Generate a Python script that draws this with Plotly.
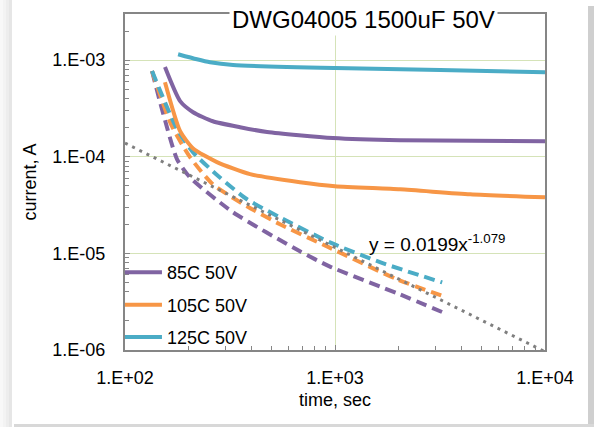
import plotly.graph_objects as go

# ---- data ----
t_85 = [155, 183, 211, 262, 353, 475, 978, 2040, 10000]
i_85 = [8.46e-4, 3.76e-4, 2.89e-4, 2.33e-4, 2.02e-4, 1.80e-4, 1.56e-4, 1.48e-4, 1.45e-4]

t_105 = [155, 183, 211, 274, 394, 681, 1000, 2040, 4400, 10000]
i_105 = [5.9e-4, 1.84e-4, 1.22e-4, 8.8e-5, 6.6e-5, 5.45e-5, 4.95e-5, 4.6e-5, 4.08e-5, 3.8e-5]

t_125 = [179, 220, 254, 327, 1000, 3162, 10000]
i_125 = [1.15e-3, 1.02e-3, 9.5e-4, 8.9e-4, 8.26e-4, 7.9e-4, 7.5e-4]

td_85 = [134.5, 150, 177, 204, 327, 681, 946, 2040, 3450]
id_85 = [7.7e-4, 3.1e-4, 9.4e-5, 6.1e-5, 2.66e-5, 1.05e-5, 7.3e-6, 3.76e-6, 2.33e-6]

td_105 = [134.5, 165.5, 204, 262, 381, 547, 916, 1972, 3410]
id_105 = [7.7e-4, 2.17e-4, 9.9e-5, 5.19e-5, 3.07e-5, 2.0e-5, 1.18e-5, 5.4e-6, 3.5e-6]

td_125 = [134.5, 177, 211, 283, 381, 547, 946, 1637, 3240]
id_125 = [7.7e-4, 1.93e-4, 1.11e-4, 6.1e-5, 3.63e-5, 2.36e-5, 1.3e-5, 8.1e-6, 5.0e-6]

trend_t = [100, 10000]
trend_i = [1.383e-4, 9.6e-7]

series_names = ["85C 50V", "105C 50V", "125C 50V"]
x_tickvals = [100, 1000, 10000]
x_ticktext = ["1.E+02", "1.E+03", "1.E+04"]
y_tickvals = [1e-6, 1e-5, 1e-4, 1e-3]
y_ticktext = ["1.E-06", "1.E-05", "1.E-04", "1.E-03"]
title_text = "DWG04005 1500uF 50V"
equation_text = "y = 0.0199x<sup>-1.079</sup>"

PURPLE = "#8064A2"
ORANGE = "#F79646"
TEAL = "#4BACC6"
GREY = "#7F7F7F"
FONT = "Liberation Sans, Arial, sans-serif"
FS = 18

fig = go.Figure()

# dashed series (no legend)
for tx, iy, c in [(td_85, id_85, PURPLE), (td_105, id_105, ORANGE), (td_125, id_125, TEAL)]:
    fig.add_trace(go.Scatter(x=tx, y=iy, mode="lines", showlegend=False,
                             line=dict(color=c, width=4, dash="11px,6px", shape="spline", smoothing=0.6)))

# trend line (dotted)
fig.add_trace(go.Scatter(x=trend_t, y=trend_i, mode="lines", showlegend=False,
                         line=dict(color=GREY, width=3, dash="3px,5px")))

# solid series
for tx, iy, c, n in [(t_85, i_85, PURPLE, series_names[0]),
                     (t_105, i_105, ORANGE, series_names[1]),
                     (t_125, i_125, TEAL, series_names[2])]:
    fig.add_trace(go.Scatter(x=tx, y=iy, mode="lines", name=n, legendgroup=n,
                             line=dict(color=c, width=4, shape="spline", smoothing=0.6)))

minor_x = [m * 10 ** d for d in (2, 3) for m in range(2, 10)]
minor_y = [m * 10 ** d for d in (-6, -5, -4, -3) for m in range(2, 10)]

axis_common = dict(showline=True, linecolor="#868686", linewidth=2, mirror=True,
                   ticks="inside", ticklen=5, tickcolor="#868686", tickwidth=1,
                   showgrid=True, gridcolor="#D5E3B8", gridwidth=1,
                   zeroline=False, tickfont=dict(family=FONT, size=FS, color="#000"))

fig.update_xaxes(type="log", range=[2, 4], tickvals=x_tickvals, ticktext=x_ticktext,
                 ticklabelstandoff=10,
                 minor=dict(tickvals=minor_x, ticks="inside", ticklen=4, tickcolor="#868686", showgrid=False),
                 title=dict(text="time, sec", font=dict(family=FONT, size=FS, color="#000"), standoff=7),
                 **axis_common)
fig.update_yaxes(type="log", range=[-6, -2.523], tickvals=y_tickvals, ticktext=y_ticktext,
                 ticklabelstandoff=14,
                 minor=dict(tickvals=minor_y, ticks="inside", ticklen=4, tickcolor="#868686", showgrid=False),
                 title=dict(text="current, A", font=dict(family=FONT, size=FS, color="#000"), standoff=11),
                 **axis_common)

# title sitting over the top frame
fig.add_annotation(x=(363 - 125) / 420, y=1, xref="paper", yref="paper", text=title_text,
                   showarrow=False, xanchor="center", yanchor="middle", yshift=-5,
                   font=dict(family=FONT, size=24, color="#000"), bgcolor="white", borderpad=2)

# trendline equation
fig.add_annotation(x=(437 - 125) / 420, y=(350 - 243) / 336, xref="paper", yref="paper",
                   text=equation_text, showarrow=False, xanchor="center", yanchor="middle",
                   font=dict(family=FONT, size=19, color="#000"))

# soft shadow around the chart
W, H = 420.0, 336.0
def px_x(x):
    return (x - 125) / W
def px_y(y):
    return (350 - y) / H
for i, col in enumerate(["#E6E6E6", "#EDEDED", "#F3F3F3", "#F8F8F8"]):
    fig.add_shape(type="rect", xref="paper", yref="paper", layer="below",
                  x0=px_x(0), x1=px_x(12 - i * 3), y0=px_y(427), y1=px_y(0),
                  fillcolor=col, line=dict(width=0))
fig.add_shape(type="rect", xref="paper", yref="paper", layer="below",
              x0=px_x(588), x1=px_x(594), y0=px_y(427), y1=px_y(6),
              fillcolor="#CFCFCF", line=dict(width=0))
fig.add_shape(type="rect", xref="paper", yref="paper", layer="below",
              x0=px_x(14), x1=px_x(594), y0=px_y(427), y1=px_y(424),
              fillcolor="#D8D8D8", line=dict(width=0))

fig.update_layout(
    width=594, height=427,
    margin=dict(l=125, r=49, t=14, b=77),
    paper_bgcolor="white", plot_bgcolor="white",
    font=dict(family=FONT, size=FS, color="#000"),
    showlegend=True,
    legend=dict(x=-0.012, y=-0.018, xanchor="left", yanchor="bottom",
                bgcolor="rgba(0,0,0,0)", font=dict(family=FONT, size=FS, color="#000"),
                tracegroupgap=6, itemwidth=37),
)

fig.write_html("out.html", config={"displayModeBar": False},
               post_script="document.body.style.margin='0';document.body.style.overflow='hidden';")
